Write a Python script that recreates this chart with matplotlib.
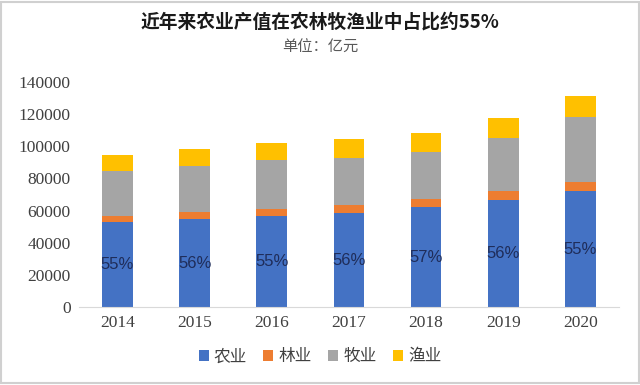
import matplotlib.pyplot as plt
from matplotlib.patches import Rectangle

plt.rcParams['font.family'] = ['Noto Sans CJK SC', 'DejaVu Sans']

# data (亿元)
years = ['2014', '2015', '2016', '2017', '2018', '2019', '2020']
nongye = [52700, 54700, 56600, 58300, 62000, 66400, 72000]
linye = [3700, 4500, 4300, 5100, 5500, 5700, 6000]
muye = [28300, 28500, 30500, 29300, 28800, 33200, 40300]
yuye = [9900, 10600, 10600, 11600, 12100, 12600, 12800]
pct_labels = ['55%', '56%', '55%', '56%', '57%', '56%', '55%']

series = [('农业', nongye, '#4472C4'),
          ('林业', linye, '#ED7D31'),
          ('牧业', muye, '#A5A5A5'),
          ('渔业', yuye, '#FFC000')]

fig = plt.figure(figsize=(6.4, 3.85), dpi=100)
ax = fig.add_axes([0.1234, 0.2026, 0.8436, 0.5844])

x = list(range(len(years)))
bottom = [0] * len(years)
for name, vals, col in series:
    ax.bar(x, vals, 0.4, bottom=bottom, color=col, label=name, zorder=2)
    bottom = [b + v for b, v in zip(bottom, vals)]

for i, lab in enumerate(pct_labels):
    ax.text(x[i], nongye[i] / 2, lab, ha='center', va='center', fontsize=12,
            color='#1F2D5A', family=['Liberation Sans', 'DejaVu Sans'])

ax.set_xlim(-0.5, len(years) - 0.5)
ax.set_ylim(0, 140000)
ax.set_yticks(range(0, 140001, 20000))
ax.set_xticks(x)
ax.set_xticklabels(years)
for lab in ax.get_xticklabels() + ax.get_yticklabels():
    lab.set_family(['Liberation Serif', 'DejaVu Serif'])
    lab.set_fontsize(12.5)
    lab.set_color('#404040')
ax.tick_params(length=0, pad=6)
for s in ['top', 'right', 'left']:
    ax.spines[s].set_visible(False)
ax.spines['bottom'].set_color('#D9D9D9')

fig.text(0.5, 0.943, '近年来农业产值在农林牧渔业中占比约55%', ha='center', va='center',
         fontsize=13.5, fontweight='bold', color='#1a1a1a')
fig.text(0.5, 0.878, '单位：亿元', ha='center', va='center', fontsize=11, color='#595959')

fig.legend(loc='center', bbox_to_anchor=(0.5, 0.073), ncol=4, frameon=False,
           fontsize=12, handlelength=0.6, handleheight=0.6, handletextpad=0.3,
           columnspacing=1.0, labelcolor='#404040')

fig.patches.append(Rectangle((0.002, 0.004), 0.996, 0.992, transform=fig.transFigure,
                             fill=False, edgecolor='#D0D0D0', linewidth=1.5))

fig.savefig('out.png', dpi=100)
